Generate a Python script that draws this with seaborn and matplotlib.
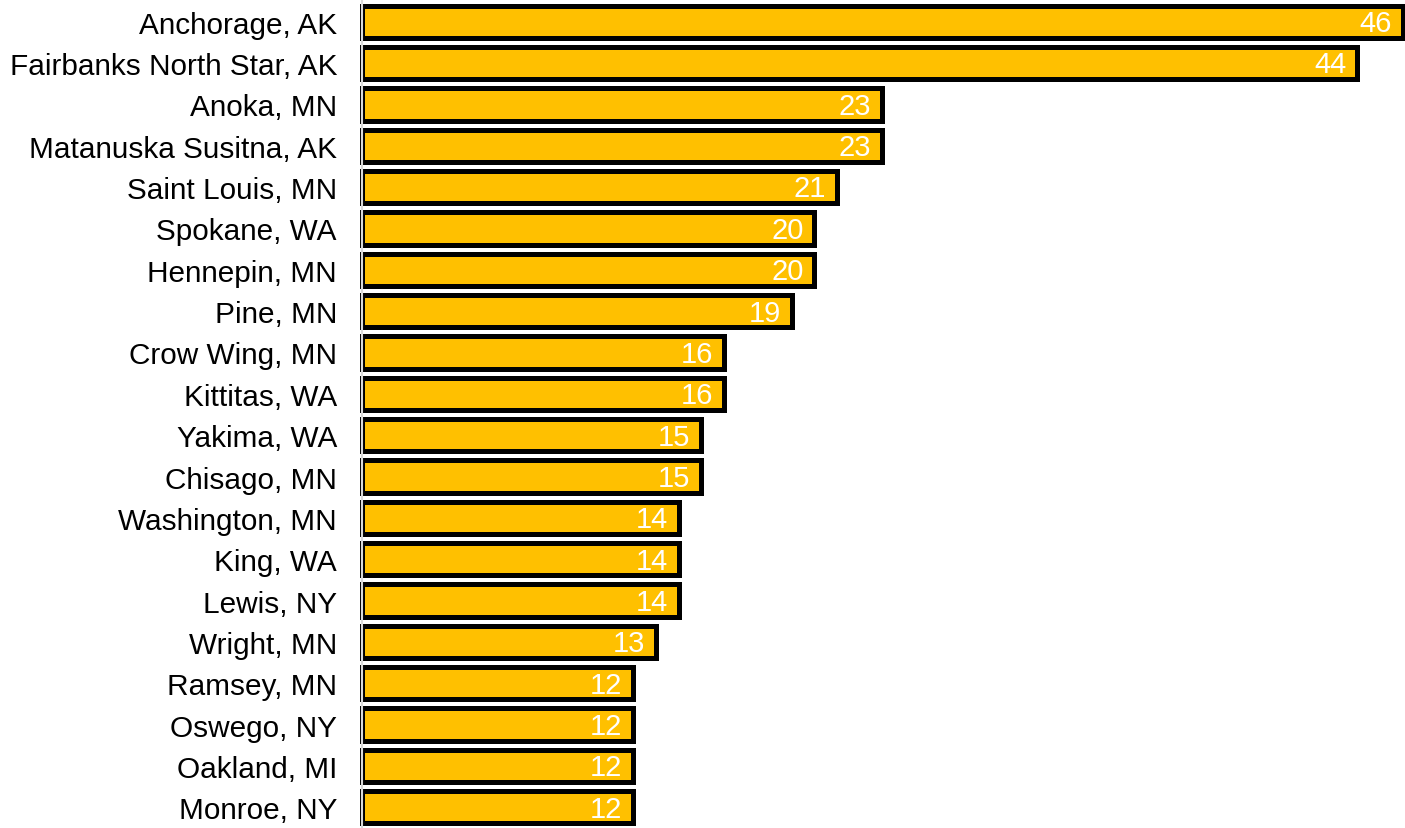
import matplotlib
matplotlib.use("Agg")
import matplotlib.pyplot as plt
import seaborn as sns
import pandas as pd

counties = ["Anchorage, AK", "Fairbanks North Star, AK", "Anoka, MN", "Matanuska Susitna, AK",
            "Saint Louis, MN", "Spokane, WA", "Hennepin, MN", "Pine, MN", "Crow Wing, MN",
            "Kittitas, WA", "Yakima, WA", "Chisago, MN", "Washington, MN", "King, WA",
            "Lewis, NY", "Wright, MN", "Ramsey, MN", "Oswego, NY", "Oakland, MI", "Monroe, NY"]
counts = [46, 44, 23, 23, 21, 20, 20, 19, 16, 16, 15, 15, 14, 14, 14, 13, 12, 12, 12, 12]

sns.set_theme(style="white")
plt.rcParams['font.family'] = ['Liberation Sans', 'DejaVu Sans']

df = pd.DataFrame({"county": counties, "count": counts})

fig = plt.figure(figsize=(14.05, 8.29), dpi=100)
ax = fig.add_axes([362/1405, 0.0, 1 - 362/1405, 1 - 2/829])

sns.barplot(data=df, x="count", y="county", orient="h", color="#FFC000", saturation=1,
            edgecolor="black", linewidth=3.6, width=0.78, ax=ax)

for p in ax.patches:
    p.set_clip_on(False)

for i, v in enumerate(counts):
    ax.annotate(str(v), xy=(v, i), xytext=(-8, -1), textcoords="offset points",
                ha="right", va="center", color="white", fontsize=21)

ax.set_xlim(0, 46.1)
ax.set_ylim(len(counts) - 0.5, -0.5)
ax.set_xlabel("")
ax.set_ylabel("")
ax.set_xticks([])
ax.tick_params(axis="y", length=0, pad=18, labelsize=21.4, colors="black")
for s in ["top", "right", "bottom"]:
    ax.spines[s].set_visible(False)
ax.spines["left"].set_color("#d9d9d9")
ax.spines["left"].set_linewidth(1.5)

fig.savefig("out.png", dpi=100)
